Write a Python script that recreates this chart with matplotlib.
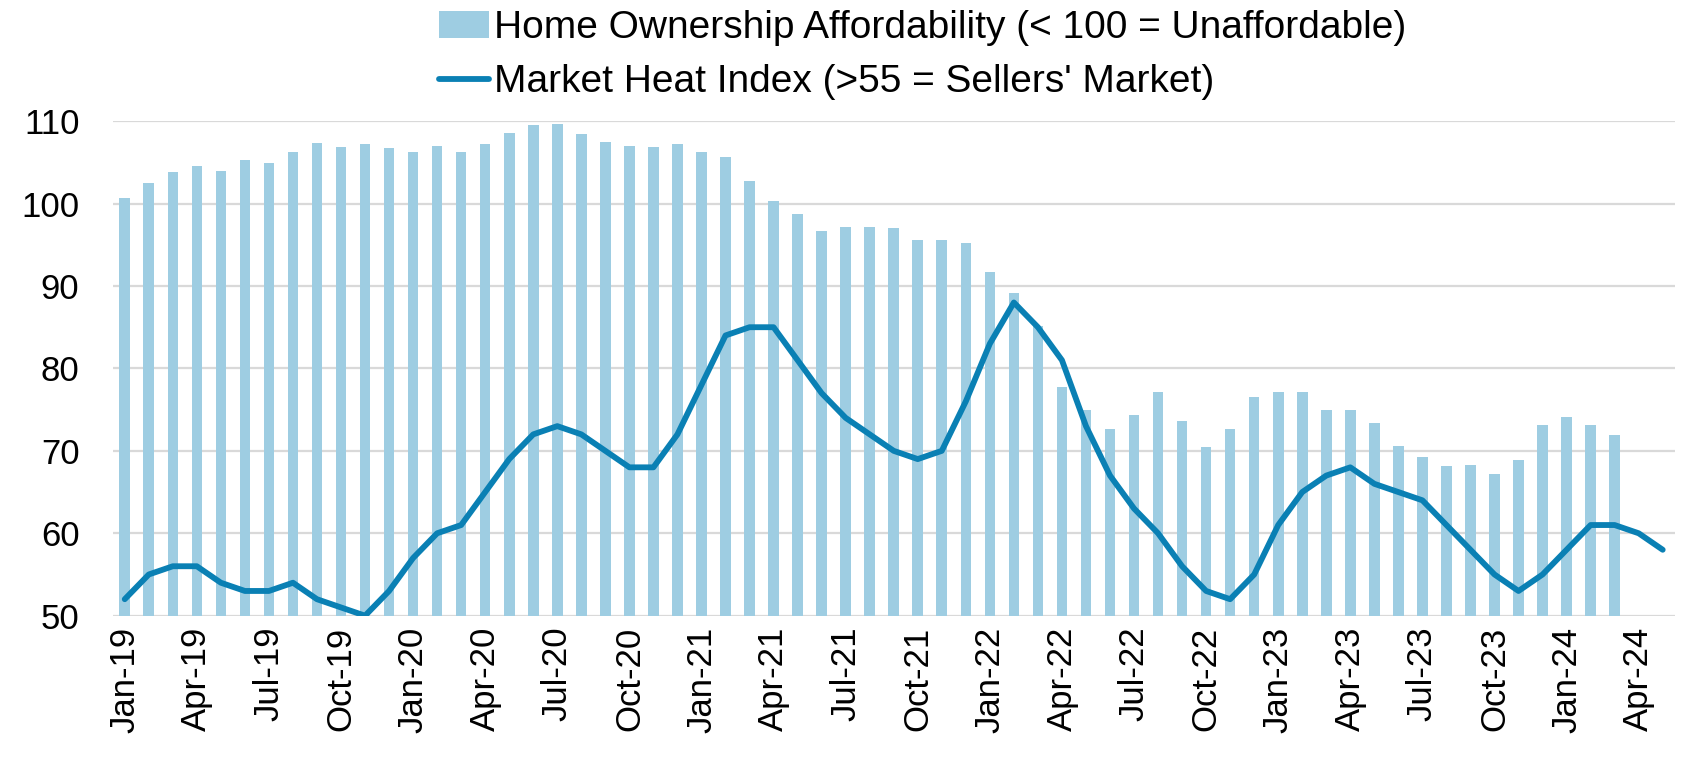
import matplotlib
matplotlib.use("Agg")
import matplotlib.pyplot as plt
import numpy as np

months = ["Jan", "Feb", "Mar", "Apr", "May", "Jun", "Jul", "Aug", "Sep", "Oct", "Nov", "Dec"]
years = ["19", "20", "21", "22", "23", "24"]
categories = [f"{m}-{y}" for y in years for m in months][:65]  # Jan-19 .. May-24

affordability = [
    100.7, 102.5, 103.8, 104.6, 104.0, 105.3, 104.9, 106.3, 107.3, 106.9, 107.2, 106.8,
    106.2, 107.0, 106.2, 107.2, 108.6, 109.5, 109.6, 108.4, 107.5, 107.0, 106.9, 107.2,
    106.2, 105.7, 102.7, 100.3, 98.7, 96.7, 97.1, 97.1, 97.0, 95.6, 95.6, 95.2,
    91.7, 89.2, 85.1, 77.8, 74.9, 72.7, 74.4, 77.2, 73.6, 70.5, 72.7, 76.5,
    77.2, 77.2, 74.9, 74.9, 73.4, 70.6, 69.3, 68.2, 68.3, 67.2, 68.9, 73.1,
    74.1, 73.1, 71.9,
]

heat_index = [
    52, 55, 56, 56, 54, 53, 53, 54, 52, 51, 50, 53,
    57, 60, 61, 65, 69, 72, 73, 72, 70, 68, 68, 72,
    78, 84, 85, 85, 81, 77, 74, 72, 70, 69, 70, 76,
    83, 88, 85, 81, 73, 67, 63, 60, 56, 53, 52, 55,
    61, 65, 67, 68, 66, 65, 64, 61, 58, 55, 53, 55,
    58, 61, 61, 60, 58,
]

bar_label = "Home Ownership Affordability (< 100 = Unaffordable)"
line_label = "Market Heat Index (>55 = Sellers' Market)"
yticks = [50, 60, 70, 80, 90, 100, 110]

bar_color = "#9ecde2"
line_color = "#0a80b4"
grid_color = "#d9d9d9"

plt.rcParams["font.family"] = ["Liberation Sans", "DejaVu Sans"]

fig = plt.figure(figsize=(16.85, 7.62), dpi=100)
ax = fig.add_axes([0.0669, 0.192, 0.927, 0.649])

x = np.arange(len(categories))
bars = ax.bar(x[:len(affordability)], affordability, width=0.44, color=bar_color,
              label=bar_label, zorder=2)
line, = ax.plot(x[:len(heat_index)], heat_index, color=line_color, lw=4.2,
                solid_joinstyle="round", solid_capstyle="round", label=line_label, zorder=3)

ax.set_xlim(-0.5, len(categories) - 0.5)
ax.set_ylim(50, 110)
ax.set_yticks(yticks)
ax.set_yticklabels([str(v) for v in yticks], fontsize=25)
tick_pos = x[::3]
ax.set_xticks(tick_pos)
ax.set_xticklabels([categories[i] for i in tick_pos], rotation=90, fontsize=25)
ax.tick_params(axis="y", length=0, pad=24)
ax.tick_params(axis="x", length=0, pad=8)
ax.grid(axis="y", color=grid_color, lw=1.6, zorder=0)
ax.set_axisbelow(True)
for s in ax.spines.values():
    s.set_visible(False)

leg = fig.legend(handles=[bars, line], labels=[bar_label, line_label],
                 loc="upper left", bbox_to_anchor=(0.2604, 0.9867), frameon=False,
                 prop={"size": 28},
                 handlelength=1.3, handleheight=0.7, handletextpad=0.12,
                 labelspacing=0.47, borderaxespad=0, borderpad=0)

fig.savefig("out.png", dpi=100)
